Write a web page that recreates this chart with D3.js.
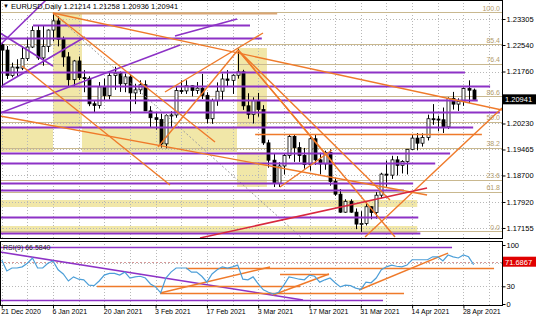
<!DOCTYPE html>
<html>
<head>
<meta charset="utf-8">
<script src="https://cdn.jsdelivr.net/npm/d3@7"></script>
<style>
body { margin: 0; background: #fff; }
text { font-family: "Liberation Sans", Arial, sans-serif; }
</style>
</head>
<body>
<div id="chart"></div>
<script>

// daily bars, 21 Dec 2020 .. 30 Apr 2021 (bar index = position)
var dateLabels = ["21 Dec 2020","6 Jan 2021","20 Jan 2021","3 Feb 2021","17 Feb 2021",
    "3 Mar 2021","17 Mar 2021","31 Mar 2021","14 Apr 2021","28 Apr 2021"];

var open = [1.2255,1.2239,1.2164,1.2189,1.2186,1.2214,1.2248,1.2297,1.2216,1.2250,
    1.2298,1.2325,1.2271,1.2219,1.2152,1.2207,1.2158,1.2156,1.2081,1.2076,
    1.2131,1.2105,1.2164,1.2171,1.2140,1.2160,1.2113,1.2122,1.2137,1.2060,
    1.2040,1.2035,1.1963,1.2046,1.2048,1.2120,1.2119,1.2134,1.2120,1.2127,
    1.2106,1.2037,1.2090,1.2118,1.2154,1.2150,1.2165,1.2175,1.2075,1.2050,
    1.2090,1.2064,1.1966,1.1915,1.1847,1.1898,1.1929,1.1985,1.1952,1.1929,
    1.1902,1.1978,1.1916,1.1904,1.1938,1.1852,1.1815,1.1762,1.1794,1.1762,
    1.1727,1.1729,1.1778,1.1761,1.1812,1.1874,1.1871,1.1916,1.1900,1.1911,
    1.1947,1.1980,1.1965,1.1982,1.2037,1.2036,1.2034,1.2013,1.2097,1.2080,
    1.2088,1.2126,1.21214];
var high = [1.2259,1.2251,1.2202,1.2212,1.2250,1.2276,1.2309,1.2310,1.2310,1.2300,
    1.2349,1.2338,1.2279,1.2233,1.2210,1.2220,1.2180,1.2162,1.2090,1.2145,
    1.2155,1.2172,1.2190,1.2176,1.2170,1.2168,1.2140,1.2150,1.2150,1.2074,
    1.2056,1.2052,1.2050,1.2059,1.2130,1.2150,1.2150,1.2135,1.2145,1.2169,
    1.2115,1.2096,1.2144,1.2170,1.2180,1.2168,1.2243,1.2181,1.2112,1.2100,
    1.2113,1.2077,1.1975,1.1935,1.1909,1.1934,1.1990,1.1990,1.1968,1.1951,
    1.1989,1.1990,1.1937,1.1943,1.1947,1.1863,1.1830,1.1800,1.1800,1.1773,
    1.1765,1.1792,1.1779,1.1821,1.1878,1.1914,1.1928,1.1927,1.1915,1.1948,
    1.1991,1.1995,1.1994,1.2049,1.2080,1.2046,1.2070,1.2100,1.2116,1.2097,
    1.2129,1.2150,1.21258];
var low = [1.2129,1.2154,1.2159,1.2162,1.2180,1.2207,1.2245,1.2210,1.2193,1.2233,
    1.2265,1.2250,1.2190,1.2132,1.2132,1.2151,1.2115,1.2074,1.2054,1.2067,
    1.2090,1.2094,1.2122,1.2116,1.2115,1.2058,1.2080,1.2110,1.2060,1.2010,
    1.2005,1.1952,1.1950,1.2013,1.2040,1.2110,1.2110,1.2103,1.2110,1.2095,
    1.2023,1.2022,1.2075,1.2091,1.2130,1.2110,1.2155,1.2063,1.2037,1.2023,
    1.2043,1.1960,1.1893,1.1836,1.1836,1.1873,1.1920,1.1910,1.1910,1.1890,
    1.1884,1.1901,1.1873,1.1887,1.1840,1.1810,1.1760,1.1760,1.1760,1.1712,
    1.1704,1.1723,1.1741,1.1743,1.1803,1.1837,1.1860,1.1870,1.1876,1.1873,
    1.1945,1.1944,1.1955,1.1973,1.2019,1.2000,1.1995,1.2007,1.2064,1.2060,
    1.2075,1.2083,1.20936];
var close = [1.2239,1.2164,1.2189,1.2186,1.2214,1.2248,1.2297,1.2216,1.2250,1.2298,
    1.2325,1.2271,1.2219,1.2152,1.2207,1.2158,1.2156,1.2081,1.2076,1.2131,
    1.2105,1.2164,1.2171,1.2140,1.2160,1.2113,1.2122,1.2137,1.2060,1.2040,
    1.2035,1.1963,1.2046,1.2048,1.2120,1.2119,1.2134,1.2120,1.2127,1.2106,
    1.2037,1.2090,1.2118,1.2154,1.2150,1.2165,1.2175,1.2075,1.2050,1.2090,
    1.2064,1.1966,1.1915,1.1847,1.1898,1.1929,1.1985,1.1952,1.1929,1.1902,
    1.1978,1.1916,1.1904,1.1938,1.1852,1.1815,1.1762,1.1794,1.1762,1.1727,
    1.1729,1.1778,1.1761,1.1812,1.1874,1.1871,1.1916,1.1900,1.1911,1.1947,
    1.1980,1.1965,1.1982,1.2037,1.2036,1.2034,1.2013,1.2097,1.2080,1.2088,
    1.2126,1.2121,1.20941];

var rsi = [74.6,56,61,61,63,69,78,61,61,69,
    73,58,51,39,46,42,41,32,31,39,
    49,52,52,49,54,44,46,47,44,34,
    29,19,44,54,61,61,61,54,54,47,
    37,51,58,63,61,63,66,42,41,46,
    34,24,20,17,20,32,46,44,42,41,
    49,47,37,41,44,36,29,32,31,27,
    25,37,36,44,58,63,66,64,63,66,
    75,75,75,75,80,80,73,83,80,78,
    83,80,66.6];

var priceTicks = [1.23305,1.22540,1.21760,1.20230,1.19465,1.18700,1.17920,1.17155];
var lastPrice = 1.20941;
var rsiTicks = [100,30,0];
var rsiLevel = 71.6867;

// fibo levels: label, price
var fibLevels = [["100.0",1.23511],["85.4",1.22569],["76.4",1.21981],["86.6",1.21039],
    ["50.0",1.20274],["38.2",1.19509],["23.6",1.18567],["61.8",1.18214],["0.0",1.17066]];

// chart objects, anchored on [bar, price]
var yellowRects = [[10.0,15.65,1.23482,1.19391],[-0.33,51.7,1.20127,1.19391],
    [45.87,51.7,1.22452,1.18361],[-0.33,81.0,1.17978,1.17772],[-0.33,81.0,1.17213,1.17007]];
var purpleHLines = [[6.1,48.4,1.23128],[-0.33,50.7,1.22746],[-0.33,90.3,1.21745],
    [-0.33,95.2,1.21333],[-0.33,92.8,1.20921],[-0.33,97.1,1.20568],[-0.33,91.9,1.20127],
    [-0.33,87.4,1.19361],[-0.33,84.5,1.19067],[-0.33,80.2,1.18479],[-0.33,78.4,1.18273],
    [-0.33,81.2,1.17478],[-0.33,81.6,1.17007]];
var purpleTrends = [[-0.33,1.22540,8.64,1.23864],[-0.33,1.22893,10.0,1.21922],
    [0.25,1.21363,16.24,1.22775],[-0.33,1.20539,34.76,1.22540],[33.78,1.22805,45.87,1.23305]];
var orangeTrends = [[10.0,1.23482,97.52,1.20627],[10.0,1.23482,41.58,1.19685],
    [3.96,1.21922,32.81,1.18420],[-0.33,1.20450,82.91,1.18126],[30.47,1.19538,46.06,1.22393],
    [31.83,1.21157,50.94,1.22893],[46.06,1.22393,64.97,1.19008],[46.06,1.22393,75.69,1.17978],
    [46.06,1.22393,76.67,1.16889],[70.82,1.16889,97.52,1.20686],[54.25,1.18361,64.39,1.19450]];
var orangeHLines = [[49.4,93.6,1.19921]];
var tanHLines = [[10.0,53.7,1.23482]];
var redTrends = [[38.66,1.16860,82.91,1.18332]];
var dottedTrends = [[10.0,1.23482,58.5,1.16860]];

// rsi objects, anchored on [bar, rsi]
var rsiOrangeH = [[35.93,95.97,61.0],[18.58,58.15,30.5],[30.86,78.42,18.6],[54.25,63.8,50.8]];
var rsiOrangeTrends = [[30.86,18.6,52.3,62.7],[52.89,15.3,63.8,50.8],[69.65,23.7,87.0,86.4]];
var rsiPurpleH = [[-0.33,87.78,96.6],[-0.33,74.33,6.8]];
var rsiPurpleTrends = [[-0.33,88.1,58.73,6.8]];

var width = 536, height = 321;
var PURPLE = "#8d32c6", ORANGE = "#ef7a2a";

var svg = d3.select("#chart")
    .append("svg")
    .attr("width", width)
    .attr("height", height);

var x = d3.scaleLinear().domain([-0.33, 97.52]).range([0, 502]);
var y = d3.scaleLinear().domain([1.16860, 1.23835]).range([238, 1]);
var yr = d3.scaleLinear().domain([0, 100]).range([304, 245]);

var defs = svg.append("defs");
defs.append("clipPath").attr("id","clipMain").append("rect")
    .attr("x",0).attr("y",0).attr("width",502).attr("height",238);
defs.append("clipPath").attr("id","clipRsi").append("rect")
    .attr("x",0).attr("y",241).attr("width",502).attr("height",65);

var main = svg.append("g").attr("clip-path","url(#clipMain)");
var pane = svg.append("g").attr("clip-path","url(#clipRsi)");

// yellow rectangles (overlaps cancel out, like the terminal draws them)
var rectPath = yellowRects.map(function(r){
    return "M" + x(r[0]) + "," + y(r[2]) + "H" + x(r[1]) + "V" + y(r[3]) + "H" + x(r[0]) + "Z";
}).join("");
main.append("path")
    .attr("d", rectPath)
    .attr("fill", "#f1e7a8")
    .attr("fill-rule", "evenodd");

// grid
var vgrid = d3.range(0, 97, 5);
main.selectAll(".vg").data(vgrid).enter().append("line")
    .attr("x1", function(d){ return Math.round(x(d)) + 0.5; })
    .attr("x2", function(d){ return Math.round(x(d)) + 0.5; })
    .attr("y1", 0).attr("y2", 238)
    .attr("stroke", "#b8b8b8").attr("stroke-dasharray", "1,2");
main.selectAll(".hg").data(priceTicks).enter().append("line")
    .attr("x1", 0).attr("x2", 502)
    .attr("y1", function(d){ return Math.round(y(d)) + 0.5; })
    .attr("y2", function(d){ return Math.round(y(d)) + 0.5; })
    .attr("stroke", "#b8b8b8").attr("stroke-dasharray", "1,2");
pane.selectAll(".vg").data(vgrid).enter().append("line")
    .attr("x1", function(d){ return Math.round(x(d)) + 0.5; })
    .attr("x2", function(d){ return Math.round(x(d)) + 0.5; })
    .attr("y1", 241).attr("y2", 306)
    .attr("stroke", "#b8b8b8").attr("stroke-dasharray", "1,2");
pane.selectAll(".hg").data([70, 30]).enter().append("line")
    .attr("x1", 0).attr("x2", 502)
    .attr("y1", function(d){ return Math.round(yr(d)) + 0.5; })
    .attr("y2", function(d){ return Math.round(yr(d)) + 0.5; })
    .attr("stroke", "#b8b8b8").attr("stroke-dasharray", "1,2");

// fibo lines
main.selectAll(".fib").data(fibLevels).enter().append("line")
    .attr("x1", 0).attr("x2", 502)
    .attr("y1", function(d){ return Math.round(y(d[1])) + 0.5; })
    .attr("y2", function(d){ return Math.round(y(d[1])) + 0.5; })
    .attr("stroke", "#c9b88f").attr("stroke-width", 1);

// candles
var idx = d3.range(open.length);
main.selectAll(".wick").data(idx).enter().append("line")
    .attr("x1", function(i){ return Math.round(x(i)) + 0.5; })
    .attr("x2", function(i){ return Math.round(x(i)) + 0.5; })
    .attr("y1", function(i){ return y(high[i]); })
    .attr("y2", function(i){ return y(low[i]); })
    .attr("stroke", "#000");
main.selectAll(".body").data(idx).enter().append("rect")
    .attr("x", function(i){ return Math.round(x(i)) - 1; })
    .attr("y", function(i){ return y(Math.max(open[i], close[i])); })
    .attr("width", 3)
    .attr("height", function(i){ return Math.max(1, Math.abs(y(open[i]) - y(close[i]))); })
    .attr("fill", function(i){ return close[i] >= open[i] ? "#fff" : "#000"; })
    .attr("stroke", "#000").attr("stroke-width", 0.8);

// drawn objects
function hLines(g, data, color, w, ys) {
    g.selectAll(null).data(data).enter().append("line")
        .attr("x1", function(d){ return x(d[0]); })
        .attr("x2", function(d){ return x(d[1]); })
        .attr("y1", function(d){ return Math.round(ys(d[2])) + 0.5; })
        .attr("y2", function(d){ return Math.round(ys(d[2])) + 0.5; })
        .attr("stroke", color).attr("stroke-width", w);
}
function trends(g, data, color, w, ys, dash) {
    g.selectAll(null).data(data).enter().append("line")
        .attr("x1", function(d){ return x(d[0]); })
        .attr("y1", function(d){ return ys(d[1]); })
        .attr("x2", function(d){ return x(d[2]); })
        .attr("y2", function(d){ return ys(d[3]); })
        .attr("stroke", color).attr("stroke-width", w)
        .attr("stroke-dasharray", dash || null);
}

trends(main, dottedTrends, "#a0a0a0", 1, y, "2,2");
hLines(main, tanHLines, "#d9a574", 2, y);
hLines(main, purpleHLines, PURPLE, 2, y);
hLines(main, orangeHLines, ORANGE, 1.5, y);
trends(main, purpleTrends, PURPLE, 1.6, y);
trends(main, orangeTrends, ORANGE, 1.4, y);
trends(main, redTrends, "#d8283f", 1.5, y);

// fibo labels
main.selectAll(".fibt").data(fibLevels).enter().append("text")
    .attr("x", 500)
    .attr("y", function(d){ return y(d[1]) - 1.5; })
    .attr("text-anchor", "end")
    .attr("font-size", "7px")
    .attr("fill", "#b39c6c")
    .text(function(d){ return d[0]; });

// rsi pane
pane.append("line")
    .attr("x1", 0).attr("x2", 502)
    .attr("y1", Math.round(yr(rsiLevel)) + 0.5).attr("y2", Math.round(yr(rsiLevel)) + 0.5)
    .attr("stroke", "#d79a9a").attr("stroke-dasharray", "2,2");
hLines(pane, rsiPurpleH, PURPLE, 1.6, yr);
trends(pane, rsiPurpleTrends, PURPLE, 1.6, yr);
hLines(pane, rsiOrangeH, ORANGE, 1.4, yr);
trends(pane, rsiOrangeTrends, ORANGE, 1.4, yr);

var rsiLine = d3.line()
    .x(function(d, i){ return x(i); })
    .y(function(d){ return yr(d); });
pane.append("path")
    .datum(rsi)
    .attr("d", rsiLine)
    .attr("fill", "none")
    .attr("stroke", "#4d9fd8")
    .attr("stroke-width", 1.2);

// frames
svg.append("rect").attr("x", 0.5).attr("y", 0.5).attr("width", 502).attr("height", 238)
    .attr("fill", "none").attr("stroke", "#000");
svg.append("rect").attr("x", 0.5).attr("y", 241.5).attr("width", 502).attr("height", 64)
    .attr("fill", "none").attr("stroke", "#000");

// axes
var yAxis = svg.append("g")
    .attr("transform", "translate(502.5,0)")
    .call(d3.axisRight(y).tickValues(priceTicks).tickFormat(d3.format(".5f")).tickSize(3));
var rAxis = svg.append("g")
    .attr("transform", "translate(502.5,0)")
    .call(d3.axisRight(yr).tickValues(rsiTicks).tickSize(3));
var xAxis = svg.append("g")
    .attr("transform", "translate(0,305.5)")
    .call(d3.axisBottom(x).tickValues(d3.range(0, 91, 10))
        .tickFormat(function(d, i){ return dateLabels[i]; }).tickSize(3));
[yAxis, rAxis, xAxis].forEach(function(a){
    a.select(".domain").remove();
    a.selectAll("line").attr("stroke", "#000");
    a.selectAll("text").attr("font-family", "Liberation Sans, Arial, sans-serif")
        .attr("font-size", "7.5px").attr("fill", "#000");
});
yAxis.selectAll("text").attr("x", 4);
rAxis.selectAll("text").attr("x", 4);
xAxis.selectAll("text").attr("text-anchor", "start").attr("dx", "-1px").attr("dy", "0.3em")
    .attr("font-size", "7px");

// current price / rsi value boxes
svg.append("rect").attr("x", 503).attr("y", y(lastPrice) - 5).attr("width", 33).attr("height", 10)
    .attr("fill", "#000");
svg.append("text").attr("x", 505).attr("y", y(lastPrice) + 3).attr("font-size", "7.5px")
    .attr("fill", "#fff").text(d3.format(".5f")(lastPrice));
svg.append("rect").attr("x", 503).attr("y", yr(rsiLevel) - 5).attr("width", 33).attr("height", 10)
    .attr("fill", "#e00000");
svg.append("text").attr("x", 505).attr("y", yr(rsiLevel) + 3).attr("font-size", "7.5px")
    .attr("fill", "#fff").text(rsiLevel.toFixed(4));

// titles
svg.append("text").attr("x", 3).attr("y", 8).attr("font-size", "6px").text("\u25BC");
svg.append("text").attr("x", 11).attr("y", 9).attr("font-size", "7.5px").attr("fill", "#000")
    .text("EURUSD,Daily  " + [open[92], high[92], low[92], close[92]].map(d3.format(".5f")).join(" "));
svg.append("text").attr("x", 3).attr("y", 250).attr("font-size", "7px").attr("fill", "#222")
    .text("RSI(9) " + (66.5840).toFixed(4));

</script>
</body>
</html>
